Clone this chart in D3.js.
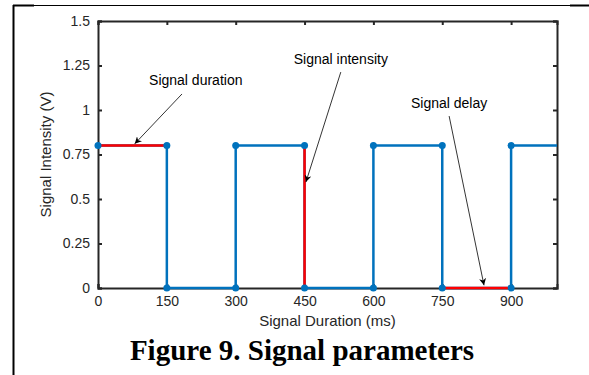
<!DOCTYPE html>
<html>
<head>
<meta charset="utf-8">
<script src="https://cdn.jsdelivr.net/npm/d3@7"></script>
<style>
  body { margin: 0; background: #fff; }
  svg { display: block; }
</style>
</head>
<body>
<div id="chart-area"></div>
<script>
// data
const signalX = [0, 150, 150, 300, 300, 450, 450, 600, 600, 750, 750, 900, 900, 1000];
const signalY = [0.8, 0.8, 0, 0, 0.8, 0.8, 0, 0, 0.8, 0.8, 0, 0, 0.8, 0.8];
const markerCount = 13; // last point has no marker
const highlights = [
  [[0, 0.8], [150, 0.8]],
  [[450, 0.8], [450, 0]],
  [[750, 0], [900, 0]]
];
const xTicks = [0, 150, 300, 450, 600, 750, 900];
const yTicks = [0, 0.25, 0.5, 0.75, 1, 1.25, 1.5];
const notes = [
  { label: "Signal duration", tx: 213, ty: 1.14, from: [183, 1.09], to: [80, 0.81] },
  { label: "Signal intensity", tx: 529, ty: 1.26, from: [529, 1.213], to: [453, 0.595] },
  { label: "Signal delay", tx: 765, ty: 1.01, from: [765, 0.966], to: [841, 0.015] }
];

const W = 589, H = 375;
const MARGIN = { LEFT: 98, TOP: 21, RIGHT: 32, BOTTOM: 87 };
const WIDTH = W - MARGIN.LEFT - MARGIN.RIGHT;
const HEIGHT = H - MARGIN.TOP - MARGIN.BOTTOM;
const AXIS = "#262626";
const SANS = "Liberation Sans, Arial, sans-serif";

const svg = d3.select("#chart-area").append("svg")
  .attr("width", W)
  .attr("height", H);

// page frame pieces
svg.append("line").attr("x1", 13.5).attr("x2", 13.5).attr("y1", 5).attr("y2", H)
  .attr("stroke", "#000").attr("stroke-width", 2);
svg.append("line").attr("x1", 13).attr("x2", W).attr("y1", 5.5).attr("y2", 5.5)
  .attr("stroke", "#000").attr("stroke-width", 1);
svg.append("line").attr("x1", 13).attr("x2", 34).attr("y1", 5.5).attr("y2", 5.5)
  .attr("stroke", "#000").attr("stroke-width", 2);
svg.append("line").attr("x1", 570).attr("x2", W).attr("y1", 5.5).attr("y2", 5.5)
  .attr("stroke", "#000").attr("stroke-width", 2);

const g = svg.append("g")
  .attr("transform", `translate(${MARGIN.LEFT}, ${MARGIN.TOP})`);

const x = d3.scaleLinear().domain([0, 1000]).range([0, WIDTH]);
const y = d3.scaleLinear().domain([0, 1.5]).range([HEIGHT, 0]);

// axes (matlab box style, ticks inward)
const fmt = d => d3.format("~g")(d);
g.append("g").attr("transform", `translate(0, ${HEIGHT})`)
  .call(d3.axisBottom(x).tickValues(xTicks).tickSize(-4).tickPadding(8).tickFormat(fmt));
g.append("g")
  .call(d3.axisLeft(y).tickValues(yTicks).tickSize(-4).tickPadding(8).tickFormat(fmt));
g.append("g")
  .call(d3.axisTop(x).tickValues(xTicks).tickSize(-4).tickFormat(""));
g.append("g").attr("transform", `translate(${WIDTH}, 0)`)
  .call(d3.axisRight(y).tickValues(yTicks).tickSize(-4).tickFormat(""));
g.selectAll(".domain").attr("stroke", AXIS).attr("stroke-width", 2);
g.selectAll(".tick line").attr("stroke", AXIS).attr("stroke-width", 2);
g.selectAll(".tick text").attr("fill", AXIS)
  .attr("font-family", SANS).attr("font-size", "14px");

// signal
const pts = signalX.map((v, i) => [v, signalY[i]]);
const line = d3.line().x(d => x(d[0])).y(d => y(d[1]));
g.append("path").datum(pts)
  .attr("d", line)
  .attr("fill", "none")
  .attr("stroke", "#0072BD")
  .attr("stroke-width", 2.5);

g.selectAll(".hl").data(highlights).enter().append("path")
  .attr("class", "hl")
  .attr("d", line)
  .attr("fill", "none")
  .attr("stroke", "#FF0000")
  .attr("stroke-width", 2.5);

g.selectAll(".dot").data(pts.slice(0, markerCount)).enter().append("circle")
  .attr("class", "dot")
  .attr("cx", d => x(d[0]))
  .attr("cy", d => y(d[1]))
  .attr("r", 3.5)
  .attr("fill", "#0072BD");

// annotations
svg.append("defs").append("marker")
  .attr("id", "head")
  .attr("viewBox", "0 0 10 10")
  .attr("refX", 10).attr("refY", 5)
  .attr("markerWidth", 7).attr("markerHeight", 7)
  .attr("markerUnits", "userSpaceOnUse")
  .attr("orient", "auto")
  .append("path").attr("d", "M0,0 L10,5 L0,10 L3,5 Z").attr("fill", "#000");

notes.forEach(n => {
  g.append("line")
    .attr("x1", x(n.from[0])).attr("y1", y(n.from[1]))
    .attr("x2", x(n.to[0])).attr("y2", y(n.to[1]))
    .attr("stroke", "#000").attr("stroke-width", 0.8)
    .attr("marker-end", "url(#head)");
  g.append("text")
    .attr("x", x(n.tx)).attr("y", y(n.ty))
    .attr("text-anchor", "middle")
    .attr("font-family", SANS)
    .attr("font-size", "14px")
    .attr("fill", "#000")
    .text(n.label);
});

// labels
g.append("text")
  .attr("x", WIDTH / 2)
  .attr("y", HEIGHT + 38)
  .attr("text-anchor", "middle")
  .attr("font-family", SANS)
  .attr("font-size", "15px")
  .attr("fill", AXIS)
  .text("Signal Duration (ms)");

g.append("text")
  .attr("x", -HEIGHT / 2)
  .attr("y", -47)
  .attr("transform", "rotate(-90)")
  .attr("text-anchor", "middle")
  .attr("font-family", SANS)
  .attr("font-size", "15px")
  .attr("fill", AXIS)
  .text("Signal Intensity (V)");

svg.append("text")
  .attr("x", 302)
  .attr("y", 360)
  .attr("text-anchor", "middle")
  .attr("font-family", "Liberation Serif, Times New Roman, serif")
  .attr("font-weight", "bold")
  .attr("font-size", "29px")
  .attr("fill", "#000")
  .text("Figure 9. Signal parameters");
</script>
</body>
</html>
